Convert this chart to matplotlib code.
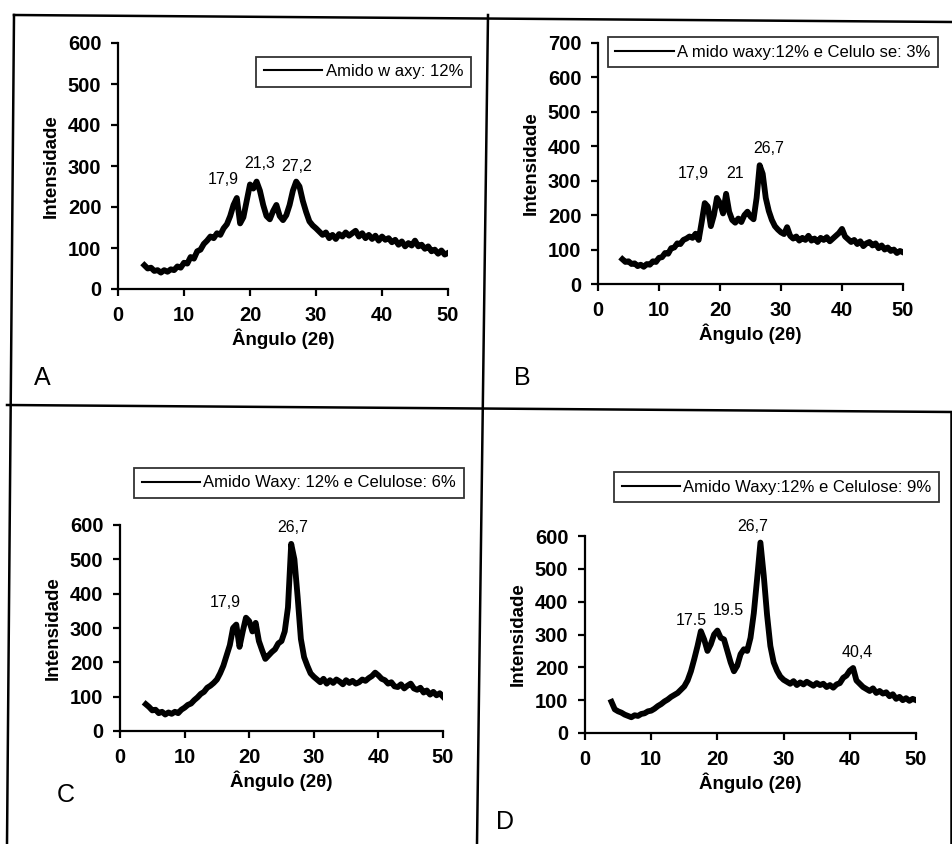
import numpy as np
import matplotlib
matplotlib.use("Agg")
from matplotlib import pyplot as plt
from matplotlib.lines import Line2D

# XRD patterns (intensity vs 2-theta), every 0.5 degree
angulo = np.arange(4.0, 50.01, 0.5)

int_a = [58, 50, 52, 44, 46, 40, 46, 42, 48, 46, 55, 52, 64, 62, 78, 74, 92, 96, 110, 118,
         128, 124, 136, 132, 148, 158, 178, 205, 222, 160, 175, 215, 255, 245, 262, 240, 205, 178, 170, 190,
         205, 178, 168, 180, 205, 240, 262, 250, 215, 188, 165, 155, 148, 140, 132, 138, 124, 132, 122, 134,
         128, 138, 130, 136, 142, 128, 136, 124, 132, 122, 130, 118, 128, 120, 124, 114, 120, 108, 116, 104,
         112, 106, 118, 104, 108, 98, 104, 92, 96, 86, 94, 84, 88]

int_b = [72, 64, 66, 58, 60, 52, 56, 50, 58, 56, 66, 64, 76, 78, 90, 88, 104, 106, 118, 116,
         128, 132, 138, 134, 146, 128, 180, 235, 225, 168, 200, 250, 235, 205, 262, 210, 186, 178, 190, 180,
         200, 210, 196, 188, 250, 345, 320, 250, 212, 186, 168, 158, 150, 145, 165, 140, 132, 138, 126, 134,
         128, 140, 126, 132, 122, 134, 128, 136, 124, 132, 140, 148, 160, 138, 130, 122, 128, 116, 124, 110,
         118, 122, 112, 118, 104, 112, 100, 106, 96, 100, 90, 96, 92]

int_c = [78, 70, 60, 62, 52, 56, 48, 54, 50, 56, 52, 62, 68, 76, 80, 90, 98, 108, 114, 126,
         132, 140, 150, 168, 190, 220, 250, 300, 310, 245, 290, 330, 320, 290, 315, 262, 235, 210, 220, 230,
         238, 255, 262, 290, 360, 545, 500, 390, 268, 215, 190, 168, 158, 150, 142, 152, 138, 148, 140, 150,
         144, 136, 148, 140, 146, 138, 142, 150, 146, 154, 160, 170, 162, 152, 148, 138, 142, 130, 128, 136,
         124, 132, 138, 124, 120, 126, 112, 118, 106, 114, 104, 110, 100]

int_d = [95, 72, 66, 62, 56, 52, 48, 54, 52, 58, 60, 66, 68, 74, 82, 88, 96, 102, 110, 116,
         122, 132, 142, 160, 188, 225, 265, 310, 285, 250, 270, 300, 312, 290, 285, 250, 215, 188, 205, 240,
         255, 250, 290, 365, 470, 580, 480, 360, 265, 215, 190, 172, 162, 156, 150, 158, 146, 154, 148, 156,
         150, 144, 152, 146, 150, 140, 146, 138, 148, 152, 168, 175, 190, 198, 160, 150, 140, 134, 128, 136,
         122, 128, 120, 124, 112, 118, 104, 110, 100, 106, 98, 104, 100]

legendas = ["Amido w axy: 12%",
            "A mido waxy:12% e Celulo se: 3%",
            "Amido Waxy: 12% e Celulose: 6%",
            "Amido Waxy:12% e Celulose: 9%"]
letras = ["A", "B", "C", "D"]
ymax = [600, 700, 600, 600]

picos_a = [(15.9, 266, "17,9"), (21.5, 307, "21,3"), (27.1, 298, "27,2")]
picos_b = [(15.6, 322, "17,9"), (22.5, 322, "21"), (27.9, 395, "26,7")]
picos_c = [(16.3, 373, "17,9"), (26.8, 594, "26,7")]
picos_d = [(16.0, 344, "17.5"), (21.6, 372, "19.5"), (25.4, 630, "26,7"), (41.1, 244, "40,4")]

plt.rcParams['font.family'] = ['Liberation Sans', 'DejaVu Sans']

W, H = 953, 844
fig = plt.figure(figsize=(W / 100, H / 100), dpi=100)

def px_box(left, right, top, bottom):
    return [left / W, 1 - bottom / H, (right - left) / W, (bottom - top) / H]

# axes boxes in pixels: left, right, top, bottom
caixas = [(118, 448, 43, 289), (598, 903, 43, 284), (120, 443, 525, 731), (585, 916, 536, 733)]
leg_pos = [(264, 52, 463, 91), (616, 32, 930, 72), (143, 469, 455, 497), (621, 468, 932, 506)]
letra_pos = [(42, 378), (522, 378), (66, 795), (505, 822)]

dados = [int_a, int_b, int_c, int_d]
picos = [picos_a, picos_b, picos_c, picos_d]

for i in range(4):
    ax = fig.add_axes(px_box(*caixas[i]))
    ax.plot(angulo, dados[i], color="black", lw=4.2, label=legendas[i])
    ax.set_xlim(0, 50)
    ax.set_ylim(0, ymax[i])
    ax.set_xticks(range(0, 51, 10))
    ax.set_yticks(range(0, ymax[i] + 1, 100))
    for s in ["top", "right"]:
        ax.spines[s].set_visible(False)
    for s in ["left", "bottom"]:
        ax.spines[s].set_linewidth(1.6)
    ax.tick_params(width=1.6, length=5, labelsize=14.5, pad=7)
    for t in ax.get_xticklabels() + ax.get_yticklabels():
        t.set_fontweight("bold")
    ax.set_xlabel("Ângulo (2θ)", fontsize=13.5, fontweight="bold", labelpad=3)
    ax.set_ylabel("Intensidade", fontsize=13.5, fontweight="bold", labelpad=6)
    for x, y, txt in picos[i]:
        ax.text(x, y, txt, fontsize=11.5, ha="center", va="center")

    l, t, r, b = leg_pos[i]
    leg = ax.legend(loc="center", bbox_to_anchor=((l + r) / 2 / W, 1 - (t + b) / 2 / H),
                    bbox_transform=fig.transFigure, frameon=True, fancybox=False,
                    handlelength=3.5, handletextpad=0.2, borderpad=0.45, fontsize=12)
    leg.get_frame().set_edgecolor("black")
    leg.get_frame().set_linewidth(1.3)
    leg.get_lines()[0].set_linewidth(1.5)

    fig.text(letra_pos[i][0] / W, 1 - letra_pos[i][1] / H, letras[i], fontsize=18,
             ha="center", va="center")

# panel frame lines of the scanned figure
linhas = [((14, 15), (953, 22)), ((14, 15), (7, 844)), ((488, 15), (477, 844)),
          ((7, 405), (953, 412)), ((951, 412), (951, 844))]
for (x0, y0), (x1, y1) in linhas:
    fig.add_artist(Line2D([x0 / W, x1 / W], [1 - y0 / H, 1 - y1 / H],
                          transform=fig.transFigure, color="black", lw=1.8))

fig.savefig("out.png", dpi=100)
